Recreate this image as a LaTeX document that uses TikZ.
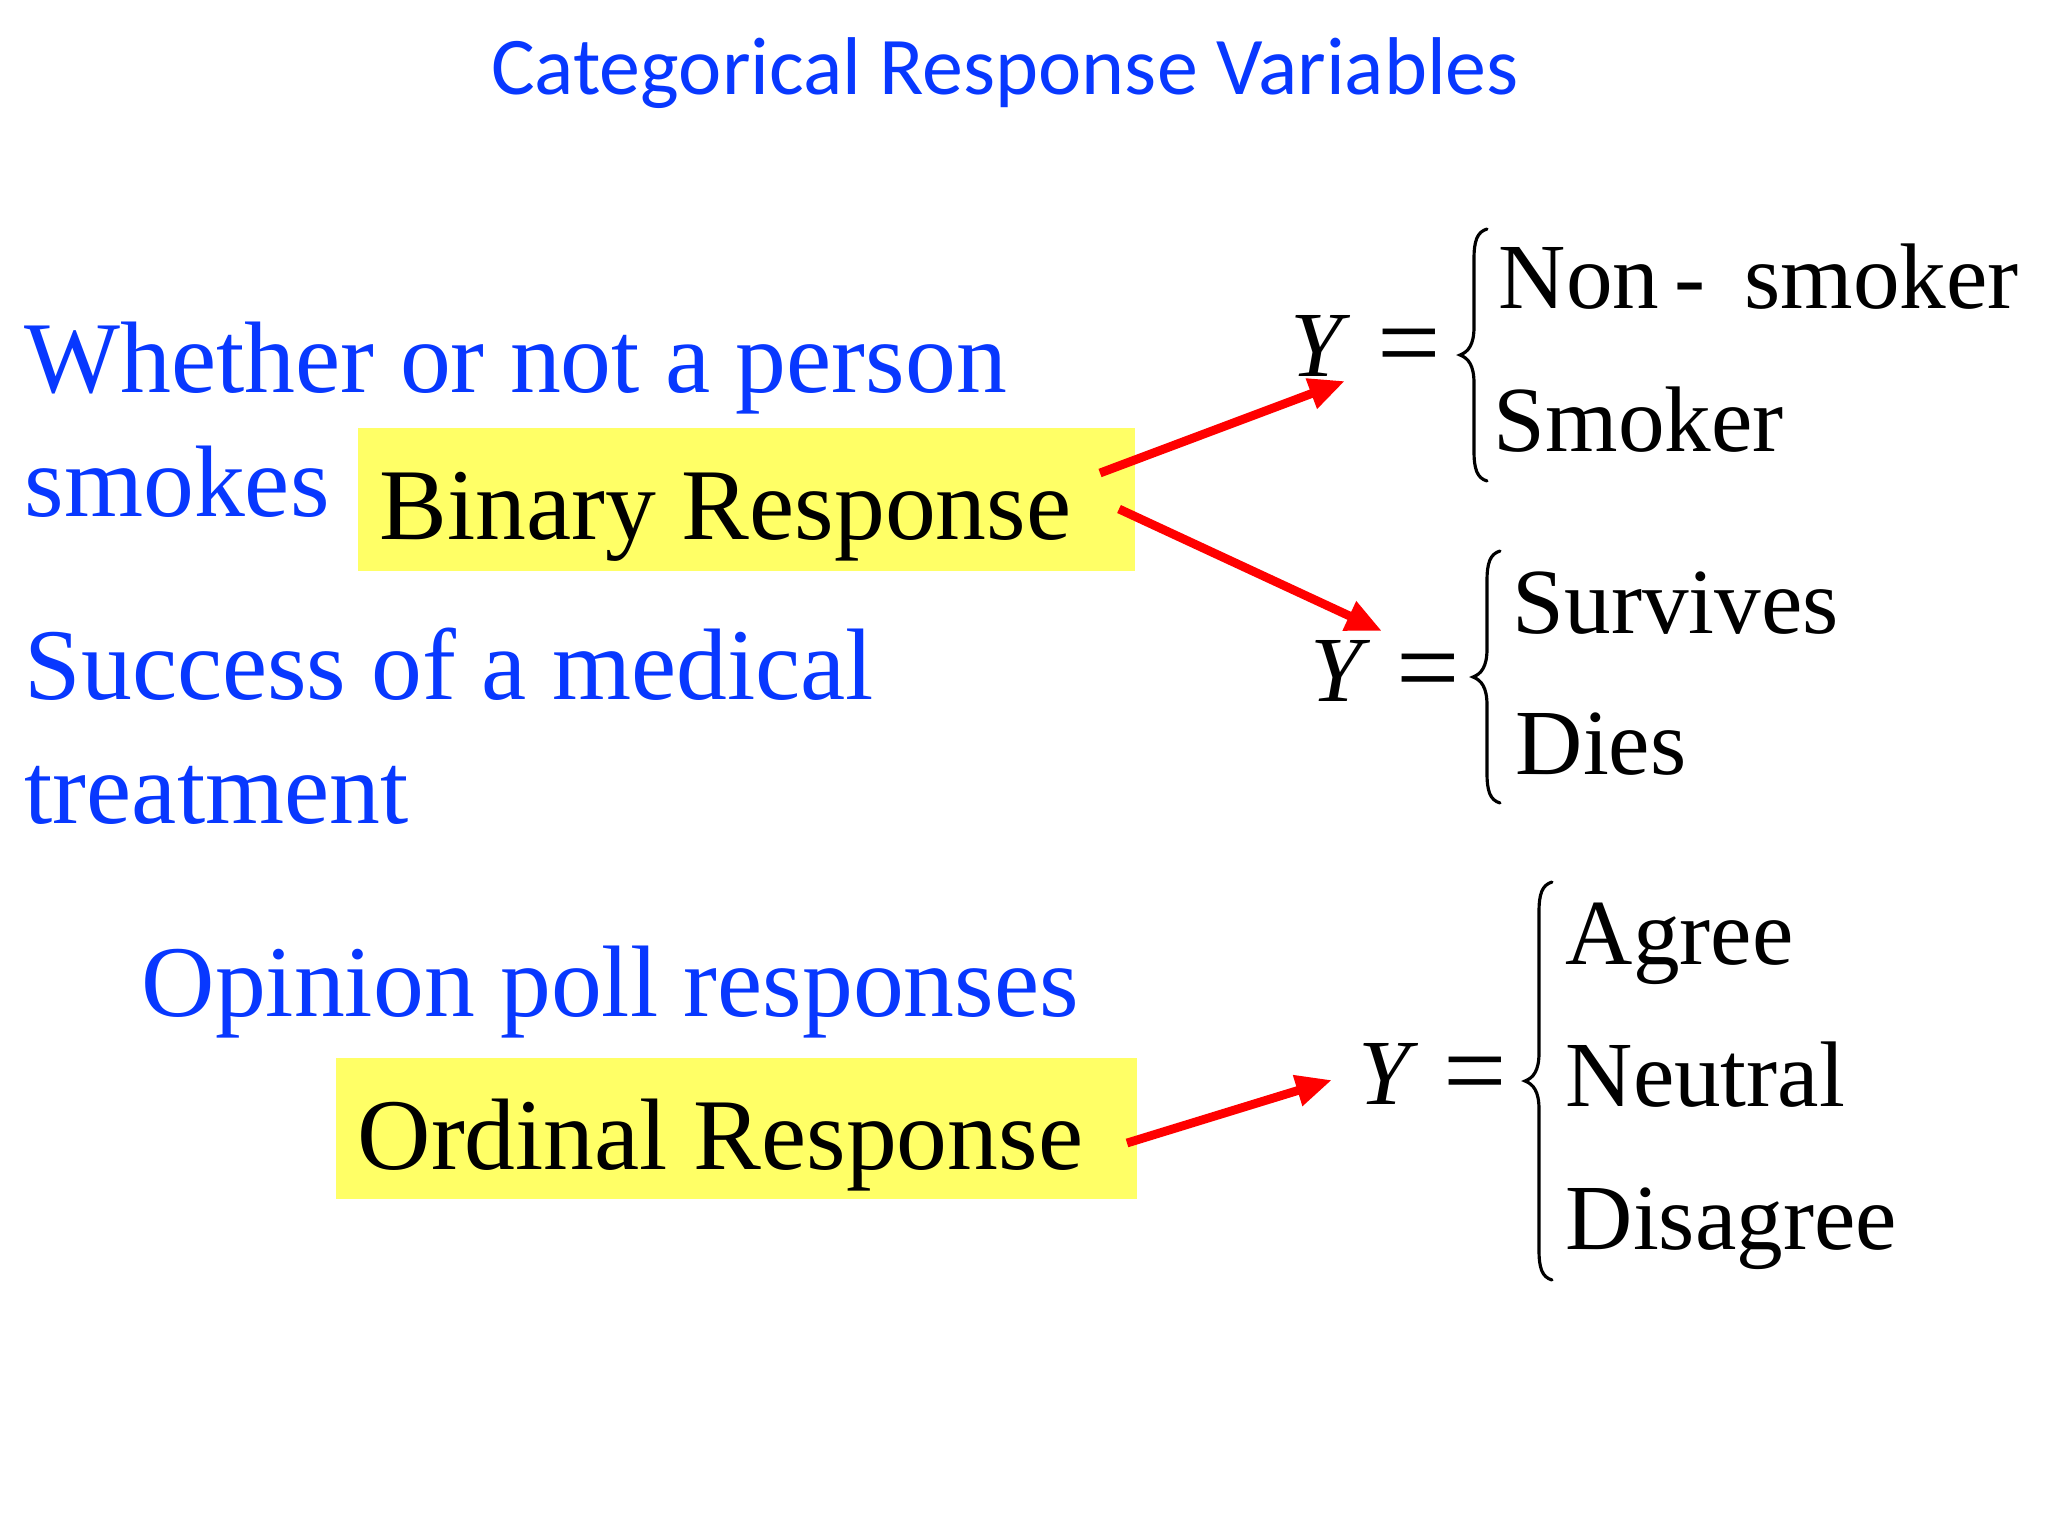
\documentclass[tikz,border=0pt]{standalone}
\usepackage{fontspec}
\setmainfont{Liberation Serif}
\newfontfamily\titlefont{Carlito}
\usetikzlibrary{arrows.meta}
\definecolor{myblue}{RGB}{8,56,255}
\definecolor{myyellow}{RGB}{255,255,102}
\definecolor{myred}{RGB}{255,0,0}
\newcommand{\bigtxt}{\fontsize{28.9}{34}\selectfont}
\newcommand{\eqtxt}{\fontsize{26.5}{31}\selectfont}
\newcommand{\eqsign}{\fontsize{32}{36}\selectfont}
\newcommand{\mybrace}[3]{%
  \draw[bracestyle] ({#1+27},{#2}) .. controls ({#1+17},{#2+3}) and ({#1+14},{#2+12}) .. ({#1+14},{#2+30})
    -- ({#1+14},{(#2+#3)/2-28}) .. controls ({#1+14},{(#2+#3)/2-10}) and ({#1+8},{(#2+#3)/2-3}) .. ({#1},{(#2+#3)/2})
    .. controls ({#1+8},{(#2+#3)/2+3}) and ({#1+14},{(#2+#3)/2+10}) .. ({#1+14},{(#2+#3)/2+28})
    -- ({#1+14},{#3-30}) .. controls ({#1+14},{#3-12}) and ({#1+17},{#3-3}) .. ({#1+27},{#3});}
\tikzset{
  bluetext/.style={anchor=base west, inner sep=0pt, text=myblue, font=\bigtxt},
  boxtext/.style={anchor=base west, inner sep=0pt, text=black, font=\bigtxt},
  eqtext/.style={anchor=base west, inner sep=0pt, text=black, font=\eqtxt},
  eqsigntext/.style={anchor=base west, inner sep=0pt, text=black, font=\eqsign},
  yellowbox/.style={fill=myyellow, draw=none},
  bracestyle/.style={draw=black, line width=0.9pt, line cap=round},
  redarrow/.style={draw=myred, line width=2.5pt, -{Triangle[length=0.36cm, width=0.3cm]}}
}
\begin{document}
\begin{tikzpicture}[x=0.01cm, y=-0.01cm]
\useasboundingbox (0,0) rectangle (2048,1536);
\fill[white] (0,0) rectangle (2048,1536);

% title
\node[anchor=base, inner sep=0pt, text=myblue, font=\titlefont\fontsize{23.3}{28}\selectfont] (title) at (1005,94) {Categorical Response Variables};

% yellow boxes
\fill[yellowbox] (358,428) rectangle (1135,571);
\fill[yellowbox] (336,1058) rectangle (1137,1199);

% blue descriptions
\node[bluetext] (w1) at (24,392) {Whether or not a person};
\node[bluetext] (w2) at (24,516) {smokes};
\node[bluetext] (s1) at (24,699) {Success of a medical};
\node[bluetext] (s2) at (24,823) {treatment};
\node[bluetext] (o1) at (141,1016) {Opinion poll responses};

% box texts
\node[boxtext] (binary) at (379,539) {Binary Response};
\node[boxtext] (ordinal) at (357,1169) {Ordinal Response};

% equation 1
\node[eqtext] (y1) at (1290,376) {\textit{Y}};
\node[eqsigntext] (eq1) at (1377,380) {=};
\mybrace{1460}{229}{481}
\node[eqtext] (ns) at (1498,308) {Non\hspace{0.16em}-\hspace{0.42em}smoker};
\node[eqtext] (sm) at (1493,451) {Smoker};

% equation 2
\node[eqtext] (y2) at (1310,701) {\textit{Y}};
\node[eqsigntext] (eq2) at (1396,705) {=};
\mybrace{1473}{551}{803}
\node[eqtext] (sv) at (1512,633) {Survives};
\node[eqtext] (di) at (1515,774) {Dies};

% equation 3
\node[eqtext] (y3) at (1358,1104) {\textit{Y}};
\node[eqsigntext] (eq3) at (1443,1108) {=};
\mybrace{1525}{882}{1280}
\node[eqtext] (ag) at (1565,964) {Agree};
\node[eqtext] (ne) at (1565,1106) {Neutral};
\node[eqtext] (da) at (1565,1249) {Disagree};

% arrows
\coordinate (a1s) at (1100,473);
\coordinate (a1e) at (1345,381);
\coordinate (a2s) at (1119,509);
\coordinate (a2e) at (1382,631);
\coordinate (a3s) at (1127,1143);
\coordinate (a3e) at (1332,1080);
\draw[redarrow] (a1s) -- (a1e);
\draw[redarrow] (a2s) -- (a2e);
\draw[redarrow] (a3s) -- (a3e);
\end{tikzpicture}
\end{document}
